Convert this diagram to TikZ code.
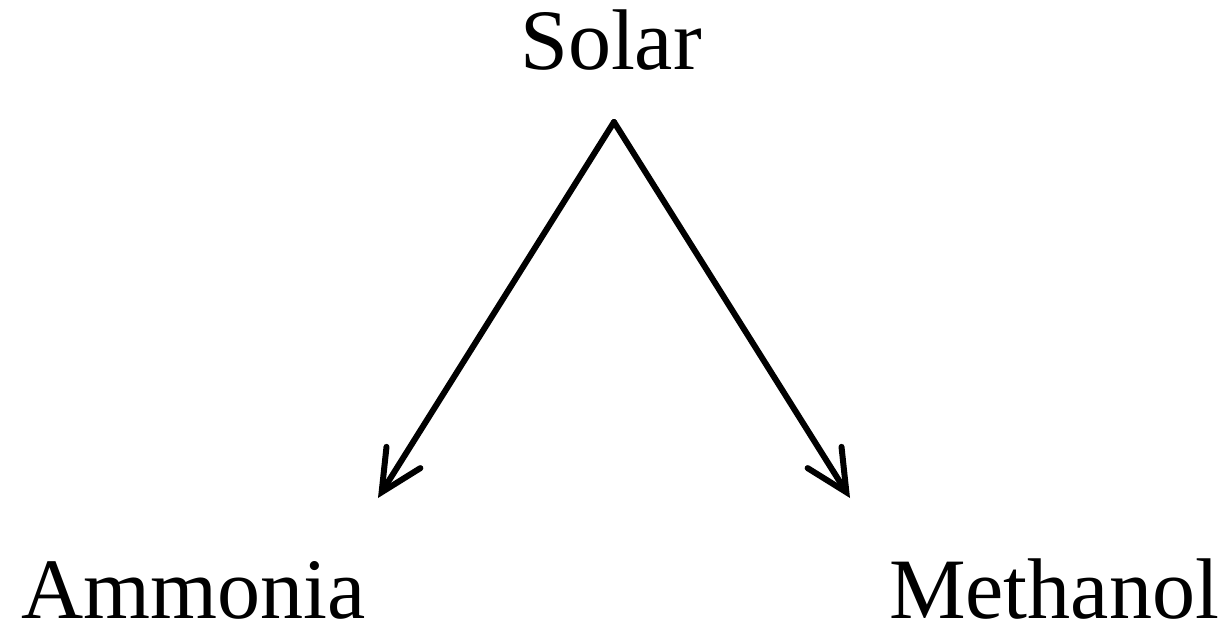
\documentclass[tikz,border=0pt]{standalone}
\usepackage{fontspec}
\setmainfont{Liberation Serif}
\usepackage{tikz}
\usetikzlibrary{arrows.meta, positioning}

\begin{document}
\begin{tikzpicture}[
    word/.style={font=\fontsize{49}{58}\selectfont, inner sep=0pt, anchor=base},
    flow/.style={-{Straight Barb[length=0.82cm, width=0.8cm, line cap=round]},
                 line width=0.12cm, line cap=round},
  ]
  \useasboundingbox (0,0) rectangle (24.62,-12.5);

  \node[word] (solar) at (12.22,-1.40) {Solar};
  \node[word] (ammonia) at (3.87,-12.36) {Ammonia};
  \node[word] (methanol) at (21.08,-12.36) {Methanol};

  % split point under Solar, arrow ends above the products
  \coordinate (apex) at (12.28,-2.44);
  \coordinate (tipA) at (7.56,-9.96);
  \coordinate (tipM) at (17.00,-9.96);

  \draw[flow] (apex) -- (tipA);
  \draw[flow] (apex) -- (tipM);
\end{tikzpicture}
\end{document}
